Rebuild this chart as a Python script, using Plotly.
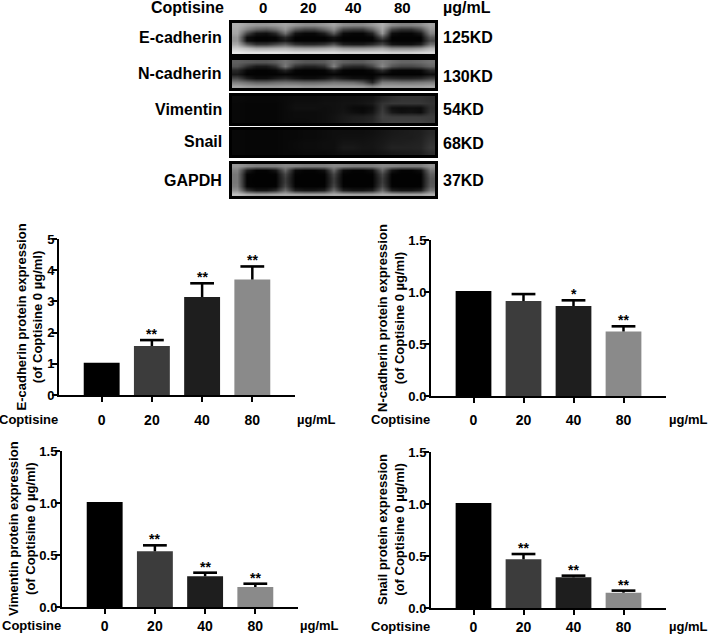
import plotly.graph_objects as go

doses = ["0", "20", "40", "80"]
bar_colors = ["#000000", "#3c3c3c", "#1e1e1e", "#8a8a8a"]

ecad_values = [1.03, 1.57, 3.14, 3.70]
ecad_err = [None, 0.19, 0.44, 0.42]
ecad_stars = ["", "**", "**", "**"]

ncad_values = [1.01, 0.913, 0.865, 0.62]
ncad_err = [None, 0.067, 0.055, 0.05]
ncad_stars = ["", "", "*", "**"]

vim_values = [1.01, 0.535, 0.295, 0.192]
vim_err = [None, 0.058, 0.035, 0.032]
vim_stars = ["", "**", "**", "**"]

snail_values = [1.01, 0.468, 0.295, 0.147]
snail_err = [None, 0.051, 0.016, 0.02]
snail_stars = ["", "**", "**", "**"]

blot_names = ["E-cadherin", "N-cadherin", "Vimentin", "Snail", "GAPDH"]
blot_sizes = ["125KD", "130KD", "54KD", "68KD", "37KD"]

blot_ecad = [
    [175,160,150,150,155,165,150,140,140,150,165,140,135,135,150,175,140,130,130,140,165],
    [170,130,100,90,110,150,90,70,70,100,140,70,60,60,100,165,70,50,50,80,150],
    [165,70,20,15,40,110,20,8,8,30,90,12,6,6,35,150,15,6,6,25,130],
    [150,15,3,3,6,40,3,3,3,3,20,3,3,3,6,80,3,3,3,3,90],
    [150,15,3,3,6,25,3,3,3,3,12,3,3,3,3,30,3,3,3,3,70],
    [170,90,50,50,70,90,50,40,40,50,80,30,25,25,40,70,20,15,15,30,110],
    [205,190,170,170,175,180,165,160,160,165,175,155,150,150,155,165,140,140,140,150,180],
    [232,225,225,225,225,222,218,218,218,218,218,212,212,212,212,212,205,205,205,210,215],
]
blot_ncad = [
    [95,90,85,85,95,115,95,85,85,90,115,95,90,90,105,125,110,100,100,105,115],
    [85,50,25,25,50,120,50,35,35,50,130,50,40,40,70,135,85,70,70,80,100],
    [40,8,3,3,8,35,5,3,3,5,30,5,3,3,10,45,8,5,5,8,40],
    [25,3,3,3,3,6,3,3,3,3,6,3,3,3,3,8,3,3,3,3,15],
    [70,30,12,12,25,35,20,12,12,20,40,25,15,15,8,50,40,35,35,40,60],
    [125,110,95,95,105,110,105,100,100,105,115,110,105,85,35,120,120,115,115,120,125],
    [165,155,150,150,150,155,155,150,150,155,155,155,155,150,130,160,160,160,160,160,165],
]
blot_vim = [
    [10,8,8,8,8,10,12,12,12,14,14,16,16,18,20,35,45,50,50,50,45],
    [8,6,6,6,6,10,14,14,14,16,16,18,18,20,25,50,55,55,55,55,50],
    [8,6,6,6,6,10,16,16,16,14,16,18,10,8,14,55,15,12,14,12,45],
    [8,6,6,6,6,10,12,12,12,14,16,20,14,10,20,60,25,15,18,12,50],
    [8,6,6,6,6,10,12,12,12,14,18,24,28,30,35,65,60,60,60,60,60],
    [8,6,6,6,6,10,10,10,12,14,18,24,30,32,38,60,65,65,65,65,60],
]
blot_snail = [
    [8,6,6,6,6,8,8,10,10,12,14,14,14,14,16,20,24,26,28,30,40],
    [8,6,6,6,6,8,8,10,10,12,14,16,16,16,18,22,26,28,28,32,45],
    [8,6,6,6,6,8,10,12,12,14,14,20,20,18,20,24,30,30,32,34,50],
    [8,6,6,6,6,8,10,12,12,14,14,24,24,20,20,26,34,34,34,36,55],
    [8,6,6,6,6,8,8,10,10,10,12,16,16,16,16,20,24,26,28,30,45],
]
blot_gapdh = [
    [150,135,125,125,125,135,130,125,125,125,135,130,125,125,125,135,130,125,125,125,145],
    [130,30,3,3,20,100,10,3,3,15,100,12,3,3,15,100,20,3,3,15,115],
    [120,5,2,2,3,70,3,2,2,3,70,3,2,2,3,70,3,2,2,3,95],
    [120,3,2,2,2,60,2,2,2,2,60,2,2,2,2,60,2,2,2,2,85],
    [120,3,2,2,2,60,2,2,2,2,60,2,2,2,2,60,2,2,2,2,85],
    [125,5,2,2,3,70,3,2,2,3,70,3,2,2,3,70,3,2,2,3,90],
    [145,50,20,20,40,105,30,20,20,30,105,30,20,20,30,105,30,20,20,30,115],
    [190,170,160,160,165,170,165,160,160,160,170,165,160,160,160,170,165,160,160,160,175],
]

FONT = "Liberation Sans"
W, H = 708, 634


def fx(px):
    return px / W


def fy(py):
    return 1 - py / H


fig = go.Figure()
layout = {}
annotations = []


def label(text, x, y, size=13, xanchor="center", angle=0):
    annotations.append(dict(
        text=f"<b>{text}</b>", x=fx(x), y=fy(y), xref="paper", yref="paper",
        xanchor=xanchor, yanchor="middle", showarrow=False, textangle=angle,
        font=dict(family=FONT, size=size, color="#000"),
    ))


def chart(n, values, err, stars, title, ymax, dtick, fmt, left, right, top, bottom, standoff, lab_y, title_x):
    sx = "" if n == 1 else str(n)
    tops = [v + e if e is not None else None for v, e in zip(values, err)]
    fig.add_trace(go.Bar(
        x=doses, y=values, width=0.715, marker=dict(color=bar_colors, line=dict(width=0)),
        error_y=dict(type="data", symmetric=False, array=err, arrayminus=[0] * 4,
                     color="#000", thickness=2.5, width=0),
        xaxis=f"x{sx}", yaxis=f"y{sx}", showlegend=False,
    ))
    fig.add_trace(go.Scatter(
        x=doses, y=tops, mode="markers", showlegend=False, hoverinfo="skip",
        marker=dict(symbol="line-ew", size=17, color="#000", line=dict(color="#000", width=2.6)),
        xaxis=f"x{sx}", yaxis=f"y{sx}",
    ))
    layout[f"xaxis{sx}"] = dict(
        domain=[fx(left), fx(right)], anchor=f"y{sx}", type="category", range=[-0.85, 3.85],
        automargin=False,
        showgrid=False, zeroline=False, showline=True, linecolor="#000", linewidth=2,
        ticks="outside", ticklen=5, tickwidth=2, tickcolor="#000",
        ticklabelstandoff=standoff,
        tickfont=dict(family=FONT, size=14, color="#000", weight="bold"),
    )
    layout[f"yaxis{sx}"] = dict(
        domain=[fy(bottom), fy(top)], anchor=f"x{sx}", range=[0, ymax], dtick=dtick, tickformat=fmt,
        automargin=False, ticklabelstandoff=-5,
        showgrid=False, zeroline=False, showline=True, linecolor="#000", linewidth=2,
        ticks="outside", ticklen=5, tickwidth=2, tickcolor="#000",
        tickfont=dict(family=FONT, size=13, color="#000", weight="bold"),
    )
    label(title, title_x, (top + bottom) / 2, 13, "center", -90)
    for i, (t, s) in enumerate(zip(tops, stars)):
        if s:
            annotations.append(dict(
                text=f"<b>{s}</b>", x=i, y=t, xref=f"x{sx}", yref=f"y{sx}",
                yanchor="middle", yshift=6, showarrow=False,
                font=dict(family=FONT, size=14, color="#000"),
            ))
    label("Coptisine", left + 1, lab_y, 13, "right")
    label("µg/mL", left + 257, lab_y, 13)


chart(1, ecad_values, ecad_err, ecad_stars,
      "E-cadherin protein expression<br>(of Coptisine 0 µg/ml)", 5, 1, "d", 59, 295, 239, 395, 6, 419, 29.5)
chart(2, ncad_values, ncad_err, ncad_stars,
      "N-cadherin protein expression<br>(of Coptisine 0 µg/ml)", 1.5, 0.5, ".1f", 431, 666, 240, 396, 5, 419, 391)
chart(3, vim_values, vim_err, vim_stars,
      "Vimentin protein expression<br>(of Coptisine 0 µg/ml)", 1.5, 0.5, ".1f", 62, 298, 451, 607, 0, 625, 22)
chart(4, snail_values, snail_err, snail_stars,
      "Snail protein expression<br>(of Coptisine 0 µg/ml)", 1.5, 0.5, ".1f", 431, 666, 452, 608, 0, 626, 391)

blots = [blot_ecad, blot_ncad, blot_vim, blot_snail, blot_gapdh]
blot_boxes = [(23, 54), (60, 88), (96, 123), (130, 155), (164, 196)]
blot_label_y = [38, 74, 109, 142, 180]
blot_size_y = [38, 76, 109, 143, 180]

for i, (z, (t, b)) in enumerate(zip(blots, blot_boxes)):
    n = 5 + i
    fig.add_trace(go.Heatmap(
        z=z, zmin=0, zmax=255, zsmooth="best", showscale=False, hoverinfo="skip",
        colorscale=[[0, "#000"], [1, "#fff"]], xaxis=f"x{n}", yaxis=f"y{n}",
    ))
    layout[f"xaxis{n}"] = dict(
        domain=[fx(232), fx(435)], anchor=f"y{n}", range=[-0.5, 20.5], showticklabels=False,
        automargin=False,
        ticks="", showgrid=False, zeroline=False, showline=True, mirror=True,
        linecolor="#000", linewidth=2.5,
    )
    layout[f"yaxis{n}"] = dict(
        domain=[fy(b), fy(t)], anchor=f"x{n}", range=[len(z) - 0.5, -0.5], showticklabels=False,
        automargin=False,
        ticks="", showgrid=False, zeroline=False, showline=True, mirror=True,
        linecolor="#000", linewidth=2.5,
    )
    label(blot_names[i], 224, blot_label_y[i], 16, "right")
    label(blot_sizes[i], 441, blot_size_y[i], 16, "left")

label("Coptisine", 187, 7, 16)
for d, x in zip(doses, [263, 308, 353, 402]):
    label(d, x, 7, 15)
label("µg/mL", 467, 7, 16)

fig.update_layout(
    width=W, height=H, margin=dict(l=0, r=0, t=0, b=0),
    paper_bgcolor="#fff", plot_bgcolor="#fff", showlegend=False, bargap=0.3,
    annotations=annotations, **layout,
)
fig.write_html("out.html", config={"displayModeBar": False},
               post_script="document.body.style.margin='0';")
